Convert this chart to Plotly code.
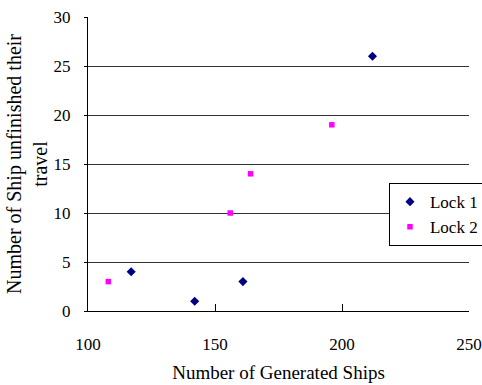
import plotly.graph_objects as go

# Lock 1 observations
lock1_ships = [117, 142, 161, 212]
lock1_unfinished = [4, 1, 3, 26]

# Lock 2 observations
lock2_ships = [108, 156, 164, 196]
lock2_unfinished = [3, 10, 14, 19]

x_ticks = [100, 150, 200, 250]
y_ticks = [0, 5, 10, 15, 20, 25, 30]

FONT = "Liberation Serif"

fig = go.Figure()
fig.add_trace(go.Scatter(
    x=lock1_ships, y=lock1_unfinished, mode="markers", name="Lock 1",
    marker=dict(symbol="diamond", size=7, color="#000080"),
))
fig.add_trace(go.Scatter(
    x=lock2_ships, y=lock2_unfinished, mode="markers", name="Lock 2",
    marker=dict(symbol="square", size=5.5, color="#FF00FF"),
))

fig.update_layout(
    width=482, height=385,
    margin=dict(l=88, r=13, t=17, b=74, autoexpand=False),
    paper_bgcolor="white", plot_bgcolor="white",
    font=dict(family=FONT, size=17, color="black"),
    showlegend=True,
    legend=dict(
        x=0.79, y=0.435, xanchor="left", yanchor="top",
        bgcolor="white", bordercolor="black", borderwidth=1,
        font=dict(family=FONT, size=17, color="black"),
        tracegroupgap=0, itemwidth=30,
    ),
)

fig.update_xaxes(
    range=[100, 250], tickvals=x_ticks, ticktext=[str(v) for v in x_ticks],
    showgrid=False, zeroline=False,
    showline=True, linecolor="black", linewidth=1,
    ticks="inside", ticklen=7, tickcolor="black",
    ticklabelstandoff=18,
    tickfont=dict(family=FONT, size=17),
    title=dict(text="Number of Generated Ships", font=dict(family=FONT, size=19), standoff=12),
)
fig.update_yaxes(
    range=[0, 30], tickvals=y_ticks, ticktext=[str(v) for v in y_ticks],
    showgrid=True, gridcolor="#333333", gridwidth=1, zeroline=False,
    showline=True, linecolor="black", linewidth=1,
    ticks="outside", ticklen=3, tickcolor="black",
    ticklabelstandoff=10,
    tickfont=dict(family=FONT, size=17),
    title=dict(text="Number of Ship unfinished their<br>travel",
               font=dict(family=FONT, size=20), standoff=0),
)

fig.write_html("out.html")
